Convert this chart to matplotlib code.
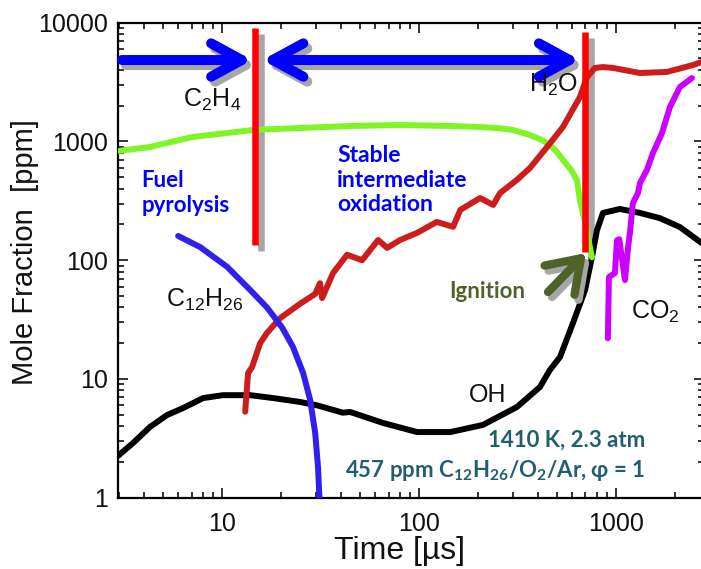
import matplotlib
matplotlib.use("Agg")
import matplotlib.pyplot as plt
from matplotlib.ticker import LogLocator, NullFormatter
from matplotlib.transforms import offset_copy

plt.rcParams["font.family"] = ["Liberation Sans", "DejaVu Sans"]
plt.rcParams["mathtext.fontset"] = "custom"
plt.rcParams["mathtext.rm"] = "Liberation Sans"
plt.rcParams["mathtext.it"] = "Liberation Sans:italic"
plt.rcParams["mathtext.bf"] = "Lato:bold"

# species profiles, time in microseconds, mole fraction in ppm
c2h4_t = [3.0, 4.3, 7.05, 14.4, 24.9, 44.7, 80.2, 144, 204, 258, 300, 366,
          420, 462, 500, 538, 590, 634, 656, 700, 755]
c2h4_y = [832, 898, 1090, 1250, 1298, 1349, 1376, 1349, 1324, 1290, 1250,
          1133, 1030, 933, 820, 699, 580, 473, 321, 200, 106]

h2o_t = [13.1, 13.55, 14.2, 15.6, 16.9, 19.7, 24.9, 29.7, 31.4, 32.2, 36.6,
         43.1, 51.4, 62, 68.9, 80.2, 97.8, 123, 149, 162, 204, 238, 258, 314,
         366, 447, 538, 656, 713, 782, 859, 966, 1325, 1816, 2460, 2800]
h2o_y = [5.3, 11.2, 12.6, 20, 24.4, 32.5, 43, 52, 64, 48, 78, 111, 100, 148,
         127, 148, 170, 210, 191, 265, 334, 292, 368, 474, 598, 898, 1324,
         2365, 3490, 4160, 4230, 4160, 3770, 3850, 4400, 4750]

c12h26_t = [5.98, 7.73, 10.6, 13.9, 16.9, 20.2, 22.9, 25.8, 28, 29.7, 30.7, 31.3]
c12h26_y = [160, 129, 88, 56, 40, 27, 18.6, 11.2, 6.65, 3.5, 1.8, 0.9]

oh_t = [2.96, 3.53, 4.3, 5.26, 6.34, 8.0, 10.1, 13.9, 18.2, 24.9, 30.3, 41,
        44.7, 65.6, 97.8, 144, 211, 314, 411, 462, 520, 605, 697, 755, 801,
        859, 1047, 1325, 1671, 2113, 2800]
oh_y = [2.25, 2.89, 3.94, 4.97, 5.69, 6.9, 7.3, 7.3, 6.9, 6.4, 6.0, 5.2, 5.27,
        4.26, 3.57, 3.57, 4.1, 5.8, 8.55, 11.9, 15.3, 29.6, 56, 106, 179, 250,
        270, 250, 226, 190, 135]

co2_t = [910, 921, 988, 1012, 1040, 1111, 1153, 1177, 1219, 1294, 1325, 1436,
         1541, 1714, 1880, 2113, 2433]
co2_y = [22, 72, 78, 147, 150, 68, 129, 169, 303, 368, 448, 575, 800, 1178,
         1950, 2875, 3420]

# phase boundaries (red bars) and arrows
bar_t = [14.7, 697]
bar_top = [9020, 8350]
bar_bottom = [134, 117]
arrow_y = 4850
pyro_arrow = (3.1, 14.2)
stable_arrow = (16.0, 656)
ign_tail = (452, 54)
ign_tip = (705, 115)

xticks = [10, 100, 1000]
yticks = [1, 10, 100, 1000, 10000]


def main():
    fig = plt.figure(figsize=(7.01, 5.69), dpi=100)
    ax = fig.add_axes([118 / 701, 71.3 / 569, 586 / 701, 475 / 569])
    ax.set_xscale("log")
    ax.set_yscale("log")
    ax.set_xlim(2.96, 2800)
    ax.set_ylim(1, 10000)

    shadow = offset_copy(ax.transData, fig=fig, x=6, y=-6, units="dots")
    ashadow = offset_copy(ax.transData, fig=fig, x=4, y=-5, units="dots")

    for t, top, bot in zip(bar_t, bar_top, bar_bottom):
        ax.plot([t, t], [bot, top], color="#a6a6a6", lw=4.7,
                solid_capstyle="butt", transform=shadow, zorder=2)

    kw = dict(lw=4.3, solid_capstyle="round", solid_joinstyle="round", zorder=3)
    ax.plot(oh_t, oh_y, color="black", **kw)
    ax.plot(c2h4_t, c2h4_y, color="#80f526", **kw)
    ax.plot(h2o_t, h2o_y, color="#cc1c1c", **kw)
    ax.plot(c12h26_t, c12h26_y, color="#3020ee", **kw)
    ax.plot(co2_t, co2_y, color="#cc00ff", **kw)

    for t, top, bot in zip(bar_t, bar_top, bar_bottom):
        ax.plot([t, t], [bot, top], color="#ff0000", lw=4.7,
                solid_capstyle="butt", zorder=4)

    def arrow(a, b, style, color, trans, z, lw=7.2):
        ax.annotate("", xy=b, xytext=a, xycoords=trans, textcoords=trans,
                    arrowprops=dict(arrowstyle=style, color=color, lw=lw,
                                    shrinkA=0, shrinkB=0, mutation_scale=20,
                                    capstyle="round", joinstyle="round"),
                    zorder=z)

    head = ",head_length=1.1,head_width=0.6"
    for trans, col, z in [(ashadow, "#a6a6a6", 5), (ax.transData, "#0000ff", 6)]:
        arrow((pyro_arrow[0], arrow_y), (pyro_arrow[1], arrow_y), "->" + head,
              col, trans, z)
        arrow((stable_arrow[0], arrow_y), (stable_arrow[1], arrow_y),
              "<->" + head, col, trans, z)
    arrow(ign_tail, ign_tip, "->,head_length=1.1,head_width=0.75", "#a6a6a6",
          ashadow, 5, lw=6)
    arrow(ign_tail, ign_tip, "->,head_length=1.1,head_width=0.75", "#4f6228",
          ax.transData, 6, lw=6)

    sp = dict(fontsize=18, color="#111111", ha="center", va="center", zorder=7)
    ax.text(8.9, 2234, r"C$_2$H$_4$", **sp)
    ax.text(479, 2990, r"H$_2$O", **sp)
    ax.text(8.2, 46, r"C$_{12}$H$_{26}$", **sp)
    ax.text(224, 7.3, "OH", **sp)
    ax.text(1578, 36.6, r"CO$_2$", **sp)

    bold = dict(family=["Lato", "DejaVu Sans"], fontweight="bold", fontsize=16,
                zorder=7)
    ax.text(3.88, 368, "Fuel\npyrolysis", color="#0000ff", ha="left",
            va="center", **bold)
    ax.text(38.4, 473, "Stable\nintermediate\noxidation", color="#0000ff",
            ha="left", va="center", **dict(bold, fontsize=16.5))
    ax.text(221, 54, "Ignition", color="#4f6228", ha="center", va="center",
            **bold)
    ax.text(1403, 3.06, "1410 K, 2.3 atm", color="#215f6e", ha="right",
            va="center", **bold)
    ax.text(1403, 1.71,
            r"457 ppm C$_\mathbf{12}$H$_\mathbf{26}$/O$_\mathbf{2}$/Ar, φ = 1",
            color="#215f6e", ha="right", va="center", **bold)

    ax.set_xticks(xticks)
    ax.set_xticklabels([str(v) for v in xticks])
    ax.set_yticks(yticks)
    ax.set_yticklabels([str(v) for v in yticks])
    ax.xaxis.set_minor_locator(LogLocator(base=10, subs=range(2, 10)))
    ax.yaxis.set_minor_locator(LogLocator(base=10, subs=range(2, 10)))
    ax.xaxis.set_minor_formatter(NullFormatter())
    ax.yaxis.set_minor_formatter(NullFormatter())
    ax.tick_params(which="both", direction="in", top=True, right=True,
                   width=1.2, labelsize=18, colors="#111111")
    ax.tick_params(which="major", length=7)
    ax.tick_params(which="minor", length=4)
    ax.tick_params(axis="x", pad=10)
    ax.tick_params(axis="y", pad=7)
    for s in ax.spines.values():
        s.set_linewidth(1.6)

    ax.set_xlabel("Time [µs]", fontsize=23, color="#111111")
    ax.set_ylabel("Mole Fraction  [ppm]", fontsize=21, color="#111111")
    ax.yaxis.set_label_coords(-0.134, 0.517)
    ax.xaxis.set_label_coords(0.481, -0.08)

    fig.savefig("out.png", dpi=100)


if __name__ == "__main__":
    main()
